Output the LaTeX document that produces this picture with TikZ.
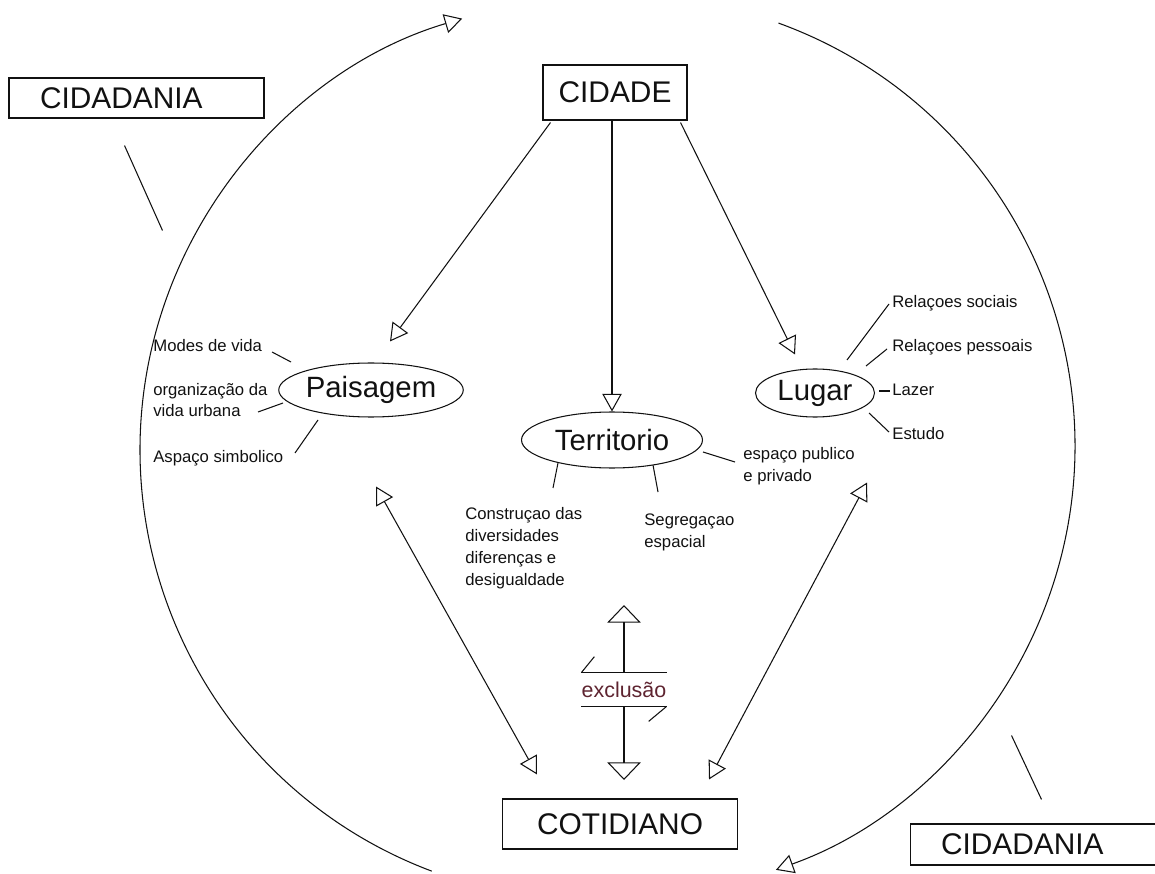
\documentclass[tikz,border=0pt]{standalone}
\usepackage{fontspec}
\setmainfont{Liberation Sans}
\setsansfont{Liberation Sans}
\usetikzlibrary{arrows.meta,shapes.geometric,calc}
\definecolor{ink}{HTML}{111111}
\definecolor{excl}{HTML}{5E2430}
\tikzset{
  every node/.style={font=\sffamily, text=ink},
  box/.style={draw=ink, line width=0.6pt, rectangle, inner sep=0pt,
              font=\fontsize{17}{20}\selectfont},
  cidbox/.style={box, text width=3.86cm, inner xsep=0.62cm, align=left,
                 minimum height=0.8cm},
  oval/.style={draw=ink, line width=0.6pt, ellipse, inner sep=0pt,
               font=\fontsize{16.7}{20}\selectfont},
  lbl/.style={anchor=base west, inner sep=0pt, align=left,
              font=\fontsize{9.5}{12.5}\selectfont},
  tick/.style={draw=ink, line width=0.6pt},
  arr/.style={-{Triangle[open, length=10pt, width=11pt]}, line width=0.6pt, draw=ink},
  darr/.style={{Triangle[open, length=10pt, width=11pt]}-{Triangle[open, length=10pt, width=11pt]},
               line width=0.6pt, draw=ink},
  bigarr/.style={-{Triangle[open, length=10pt, width=19pt]}, line width=0.6pt, draw=ink},
}

\begin{document}
\begin{tikzpicture}[x=0.02cm, y=-0.02cm]
\useasboundingbox (0,0) rectangle (1155,874);
\clip (0,0) rectangle (1155,874);

\node[box, minimum width=2.88cm, minimum height=1.1cm] (cidade) at (615,92.5) {CIDADE};
\node[box, minimum width=4.7cm, minimum height=1.0cm] (cotid) at (620,824) {COTIDIANO};
\node[cidbox] (cid1) at (136.5,98) {CIDADANIA};
\node[cidbox, minimum height=0.82cm] (cid2) at (1037.5,844.5) {CIDADANIA};

\node[oval, minimum width=3.4cm, minimum height=1.08cm] (pais) at (371,390) {Paisagem};
\node[oval, minimum width=3.62cm, minimum height=1.12cm] (terr) at (612,440) {Territorio};
\node[oval, minimum width=2.38cm, minimum height=0.96cm] (lugar) at (815,393) {Lugar};

% multi-line labels sit on their last baseline
\node[lbl] (modes) at (153,352) {Modes de vida};
\node[lbl] (orgvida) at (153,417) {organização da\\vida urbana};
\node[lbl] (simbol) at (153,462) {Aspaço simbolico};
\node[lbl] (constr) at (465,585) {Construçao das\\diversidades\\diferenças e\\desigualdade};
\node[lbl] (segreg) at (644,547) {Segregaçao\\espacial};
\node[lbl] (publico) at (743,481) {espaço publico\\e privado};
\node[lbl] (soc) at (892,308) {Relaçoes sociais};
\node[lbl] (pess) at (892,352) {Relaçoes pessoais};
\node[lbl] (lazer) at (892,396) {Lazer};
\node[lbl] (estudo) at (892,439) {Estudo};

\node[inner sep=0pt, minimum height=0.66cm, text=excl,
      font=\fontsize{12.2}{14}\selectfont] (exc) at (624,689.5) {exclusão};
\coordinate (exctop) at (624,605);
\coordinate (excbot) at (624,780);

\draw[arr] (590,450) ++(249.4:9cm) arc[start angle=249.4, end angle=106.5, radius=9cm];
\draw[arr] (625,446) ++(70.06:9cm) arc[start angle=70.06, end angle=-70.4, radius=9cm];
\draw[tick] ([shift={(-12,27)}]cid1.south) -- ++(38,85);
\draw[tick] ([shift={(4,-24)}]cid2.north) -- ++(-30,-64);

\draw[arr] ([shift={(8,2)}]cidade.south west) -- ([shift={(19,-21)}]pais.north);
\draw[arr] (cidade.south -| terr.north) -- (terr.north);
\draw[arr] ([shift={(-7,2)}]cidade.south east) -- ([shift={(-20,-14)}]lugar.north);
\draw[darr] ([shift={(5,69)}]pais.south) -- ([shift={(35,-24)}]cotid.north west);
\draw[darr] ([shift={(52,65)}]lugar.south) -- ([shift={(-29,-19)}]cotid.north east);

\draw[tick] (pais) ++(-80,-28) -- ++(-19,-10);
\draw[tick] (pais) ++(-88,13) -- ++(-25,9);
\draw[tick] (pais) ++(-53,30) -- ++(-23,33);
\draw[tick] (terr) ++(-54,23) -- ++(-5,25);
\draw[tick] (terr) ++(41,25) -- ++(5,27);
\draw[tick] (terr) ++(91,12) -- ++(32,10);
\draw[tick] (lugar) ++(32,-33) -- ++(42,-56);
\draw[tick] (lugar) ++(51,-27) -- ++(21,-17);
\draw[tick] (lugar) ++(64,-2) -- ++(11,0);
\draw[tick] (lugar) ++(54,20) -- ++(20,19);

\draw[tick] (exc.north west) -- (exc.north east);
\draw[tick] (exc.south west) -- (exc.south east);
\draw[tick] (exc.north west) -- ++(13,-16);
\draw[tick] (exc.south east) -- ++(-18,15);
\draw[bigarr] (exc.north) -- (exctop);
\draw[bigarr] (exc.south) -- (excbot);

\end{tikzpicture}
\end{document}
